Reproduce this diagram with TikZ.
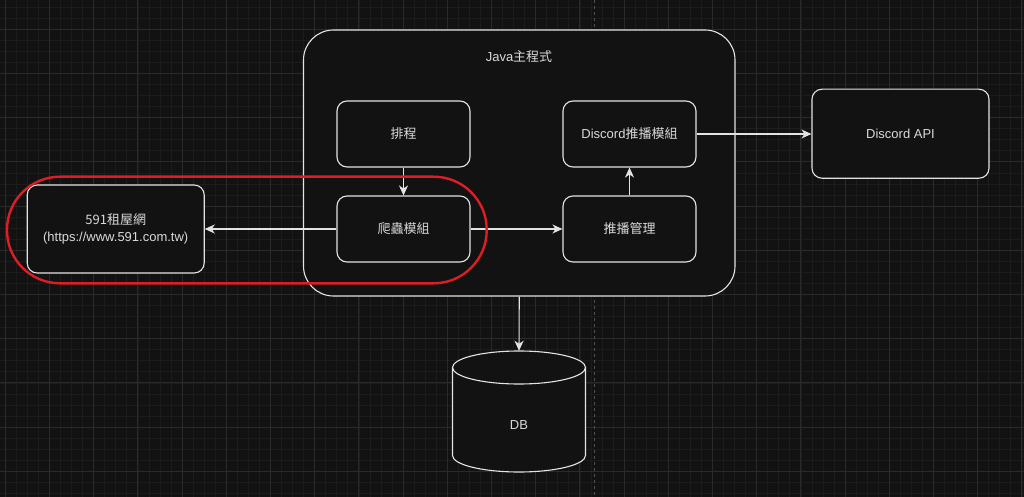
\documentclass[tikz,border=0pt]{standalone}
\usepackage{fontspec}
\setmainfont{Liberation Sans}
\newfontfamily\cjk{Noto Sans CJK TC}
\usetikzlibrary{arrows.meta}
\definecolor{bgc}{RGB}{18,18,18}
\definecolor{gminor}{RGB}{28,28,28}
\definecolor{gmajor}{RGB}{42,42,42}
\definecolor{linec}{RGB}{228,228,228}
\definecolor{textc}{RGB}{218,218,218}
\definecolor{hlred}{RGB}{222,30,36}
\definecolor{pagec}{RGB}{80,80,80}
\tikzset{
  gridminor/.style={draw=gminor,line width=0.8pt},
  gridmajor/.style={draw=gmajor,line width=0.9pt},
  box/.style={draw=linec,fill=bgc,line width=1.1pt,rounded corners=10pt,
    minimum width=133pt,minimum height=66pt,text=textc,font=\fontsize{13pt}{17.6pt}\selectfont,align=center,inner sep=0pt},
  bigbox/.style={draw=linec,fill=bgc,line width=1.1pt,rounded corners=30pt,inner sep=0pt},
  conn/.style={draw=linec,line width=1.1pt,-{Stealth[length=10pt,width=9pt,inset=3pt]}},
  lbl/.style={text=textc,font=\fontsize{13pt}{17.6pt}\selectfont,inner sep=0pt},
  redhl/.style={draw=hlred,line width=2.4pt,rounded corners=53pt,minimum width=479.7pt,minimum height=106.6pt,inner sep=0pt},
  pageline/.style={draw=pagec,line width=0.8pt,dash pattern=on 3pt off 3pt},
}
\begin{document}
\begin{tikzpicture}[x=1pt,y=-1pt]
\useasboundingbox (0,0) rectangle (1024,497);
\fill[bgc] (0,0) rectangle (1024,497);
% grid
\foreach \i in {0,...,92}{\draw[gridminor] ({5.3+11.05*\i},0) -- ({5.3+11.05*\i},497);}
\foreach \j in {0,...,44}{\draw[gridminor] (0,{7.2+11.05*\j}) -- (1024,{7.2+11.05*\j});}
\foreach \i in {0,...,23}{\draw[gridmajor] ({5.3+44.2*\i},0) -- ({5.3+44.2*\i},497);}
\foreach \j in {0,...,11}{\draw[gridmajor] (0,{29.3+44.2*\j}) -- (1024,{29.3+44.2*\j});}
\draw[pageline] (594.7,0) -- (594.7,497);

% main container
\node[bigbox,minimum width=431.5pt,minimum height=266pt] (java) at (519.25,163) {};
\node[lbl] (javat) at (519,57) {Java{\cjk 主程式}};

% inner boxes
\node[box] (sched) at (403.5,134) {\cjk 排程};
\node[box] (crawl) at (403.5,229) {\cjk 爬蟲模組};
\node[box] (dmod) at (629.5,134) {Discord{\cjk 推播模組}};
\node[box] (push) at (629.5,229) {\cjk 推播管理};

% outer boxes
\node[box,minimum width=177pt,minimum height=88pt] (site) at (115.7,229) {{\cjk 591租屋網}\\(https://www.591.com.tw)};
\node[box,minimum width=177pt,minimum height=89pt] (api) at (900.5,133.7) {Discord API};

% DB cylinder
\node[minimum width=133pt,minimum height=121pt,inner sep=0pt] (db) at (519,411.5) {};
\filldraw[draw=linec,fill=bgc,line width=1.1pt]
  (452.5,367.5) -- (452.5,455.5)
  .. controls (452.5,464.6) and (482.3,472) .. (519,472)
  .. controls (555.7,472) and (585.5,464.6) .. (585.5,455.5)
  -- (585.5,367.5)
  .. controls (585.5,358.4) and (555.7,351) .. (519,351)
  .. controls (482.3,351) and (452.5,358.4) .. (452.5,367.5) -- cycle;
\draw[draw=linec,line width=1.1pt]
  (452.5,367.5) .. controls (452.5,376.6) and (482.3,384) .. (519,384)
  .. controls (555.7,384) and (585.5,376.6) .. (585.5,367.5);
\node[lbl] (dbt) at (519,425) {DB};

% connectors
\draw[conn] (sched.south) -- (crawl.north);
\draw[conn] (crawl.west) -- (site.east);
\draw[conn] (crawl.east) -- (push.west);
\draw[conn] (push.north) -- (dmod.south);
\draw[conn] (dmod.east) -- (dmod.east -| api.west);
\draw[conn] (java.south) -- (db.north);

% red highlight
\node[redhl] (hl) at (246.85,230) {};
\end{tikzpicture}
\end{document}
